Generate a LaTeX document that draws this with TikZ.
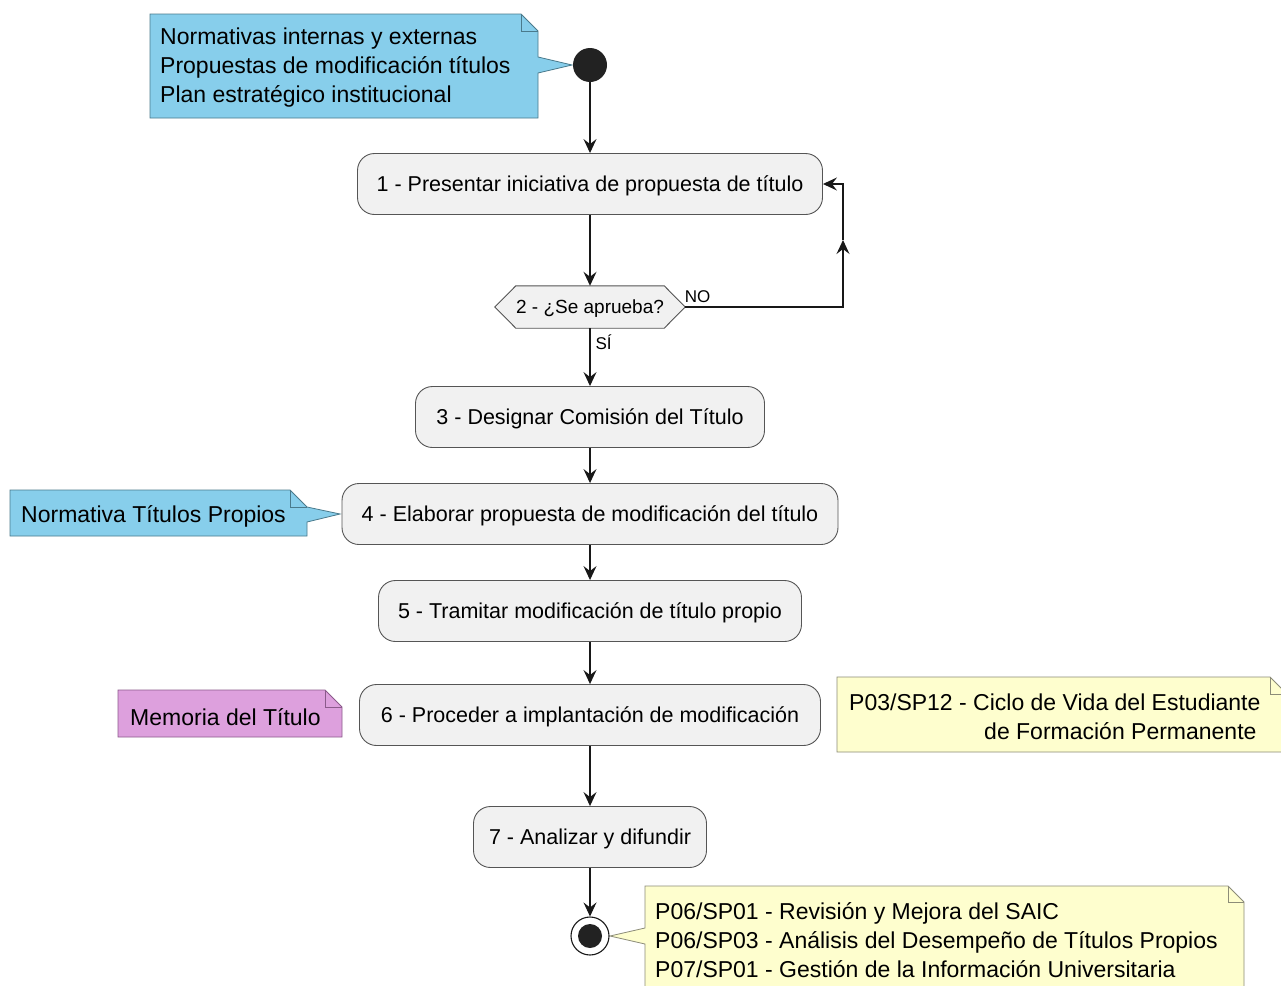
\documentclass[tikz,border=0pt]{standalone}
\usepackage{fontspec}
\setmainfont{Liberation Sans}
\usetikzlibrary{arrows.meta,backgrounds}
\definecolor{boxfill}{HTML}{F1F1F1}
\definecolor{boxline}{HTML}{555555}
\definecolor{inkline}{HTML}{181818}
\definecolor{dotfill}{HTML}{222222}
\definecolor{skynote}{HTML}{87CEEB}
\definecolor{skyline}{HTML}{4A7A8C}
\definecolor{plumnote}{HTML}{DDA0DD}
\definecolor{plumline}{HTML}{8B5A8B}
\definecolor{paleyellow}{HTML}{FEFECE}
\definecolor{yellowline}{HTML}{8C8C78}
\newcommand{\acttxt}{\fontsize{21.5}{26}\selectfont}
\newcommand{\notetxt}{\fontsize{23}{29}\selectfont}
\newcommand{\dectxt}{\fontsize{19}{22}\selectfont}
\newcommand{\lbltxt}{\fontsize{17}{20}\selectfont}
\begin{document}
\begin{tikzpicture}[x=1pt,y=-1pt,
    act/.style={draw=boxline,fill=boxfill,line width=0.9pt,rounded corners=17pt,minimum height=61pt,inner sep=0pt,text height=15pt,text depth=0pt,font=\acttxt},
    flow/.style={draw=inkline,line width=1.1pt,-{Stealth[length=14pt,width=13pt,inset=5pt]}},
    skybox/.style={draw=skyline,fill=skynote,line width=0.8pt},
    plumbox/.style={draw=plumline,fill=plumnote,line width=0.8pt},
    yellowbox/.style={draw=yellowline,fill=paleyellow,line width=0.8pt},
    notetext/.style={anchor=west,align=left,inner sep=0pt,font=\notetxt},
    lbl/.style={inner sep=0pt,font=\lbltxt}]
    \useasboundingbox (0,0) rectangle (1281,985);
    % notas
    \draw[skybox] (150,14)--(521,14)--(538,31)--(538,57)--(572,65)--(538,73)--(538,118)--(150,118)--cycle;
    \draw[skyline,line width=0.8pt] (521,14)--(521,31)--(538,31);
    \node[notetext] (n1) at (160,68) {Normativas internas y externas\\Propuestas de modificación títulos\\Plan estratégico institucional};
    \draw[skybox] (10,490)--(290,490)--(307,507)--(340,514)--(307,522)--(307,536)--(10,536)--cycle;
    \draw[skyline,line width=0.8pt] (290,490)--(290,507)--(307,507);
    \node[notetext] (n4) at (21,516) {Normativa Títulos Propios};
    \draw[plumbox] (118,690)--(325,690)--(342,707)--(342,737)--(118,737)--cycle;
    \draw[plumline,line width=0.8pt] (325,690)--(325,707)--(342,707);
    \node[notetext] (n6) at (130,717) {Memoria del Título};
    \draw[yellowbox] (837,677)--(1270,677)--(1287,694)--(1287,752)--(837,752)--cycle;
    \draw[yellowline,line width=0.8pt] (1270,677)--(1270,694)--(1287,694);
    \node[notetext] (n6b) at (849,717) {P03/SP12 - Ciclo de Vida del Estudiante\\\hspace*{135pt}de Formación Permanente};
    \draw[yellowbox] (645,886)--(1228,886)--(1244,902)--(1244,995)--(645,995)--(645,944)--(610,936)--(645,928)--cycle;
    \draw[yellowline,line width=0.8pt] (1228,886)--(1228,902)--(1244,902);
    \node[notetext] (n8) at (655,940) {P06/SP01 - Revisión y Mejora del SAIC\\P06/SP03 - Análisis del Desempeño de Títulos Propios\\P07/SP01 - Gestión de la Información Universitaria};
    % actividades
    \node[circle,fill=dotfill,minimum size=34pt,inner sep=0pt] (start) at (590,65) {};
    \node[act,minimum width=465pt] (a1) at (590,184) {1 - Presentar iniciativa de propuesta de título};
    \node[minimum width=190pt,minimum height=42pt,inner sep=0pt,text height=13.5pt,text depth=0pt,font=\dectxt] (d2) at (590,307) {2 - ¿Se aprueba?};
    \begin{scope}[on background layer]
        \fill[white] (0,0) rectangle (1281,985);
        \draw[draw=boxline,fill=boxfill,line width=0.9pt] (d2.west)--([xshift=21pt]d2.north west)--([xshift=-21pt]d2.north east)--(d2.east)--([xshift=-21pt]d2.south east)--([xshift=21pt]d2.south west)--cycle;
    \end{scope}
    \node[act,minimum width=349pt] (a3) at (590,417) {3 - Designar Comisión del Título};
    \node[act,minimum width=496pt] (a4) at (590,514) {4 - Elaborar propuesta de modificación del título};
    \node[act,minimum width=423pt] (a5) at (590,611) {5 - Tramitar modificación de título propio};
    \node[act,minimum width=461pt] (a6) at (590,715) {6 - Proceder a implantación de modificación};
    \node[act,minimum width=233pt] (a7) at (590,837) {7 - Analizar y difundir};
    \node[circle,draw=inkline,fill=white,line width=1.1pt,minimum size=38pt,inner sep=0pt] (stop) at (590,936) {};
    \node[circle,fill=dotfill,minimum size=24pt,inner sep=0pt] (stopdot) at (stop) {};
    \coordinate (nocorner) at (843,307);
    \coordinate (nomid) at (843,240);
    % flechas
    \draw[flow] (start)--(a1);
    \draw[flow] (a1)--(d2);
    \draw[flow] (d2.east)--node[lbl,pos=0,anchor=south west,xshift=-1pt,yshift=4pt]{NO} (nocorner)--(nomid);
    \draw[flow] (nomid)|-(a1.east);
    \draw[flow] (d2)--node[lbl,pos=.24,anchor=west,xshift=5pt]{SÍ} (a3);
    \draw[flow] (a3)--(a4);
    \draw[flow] (a4)--(a5);
    \draw[flow] (a5)--(a6);
    \draw[flow] (a6)--(a7);
    \draw[flow] (a7)--(stop);
\end{tikzpicture}
\end{document}
